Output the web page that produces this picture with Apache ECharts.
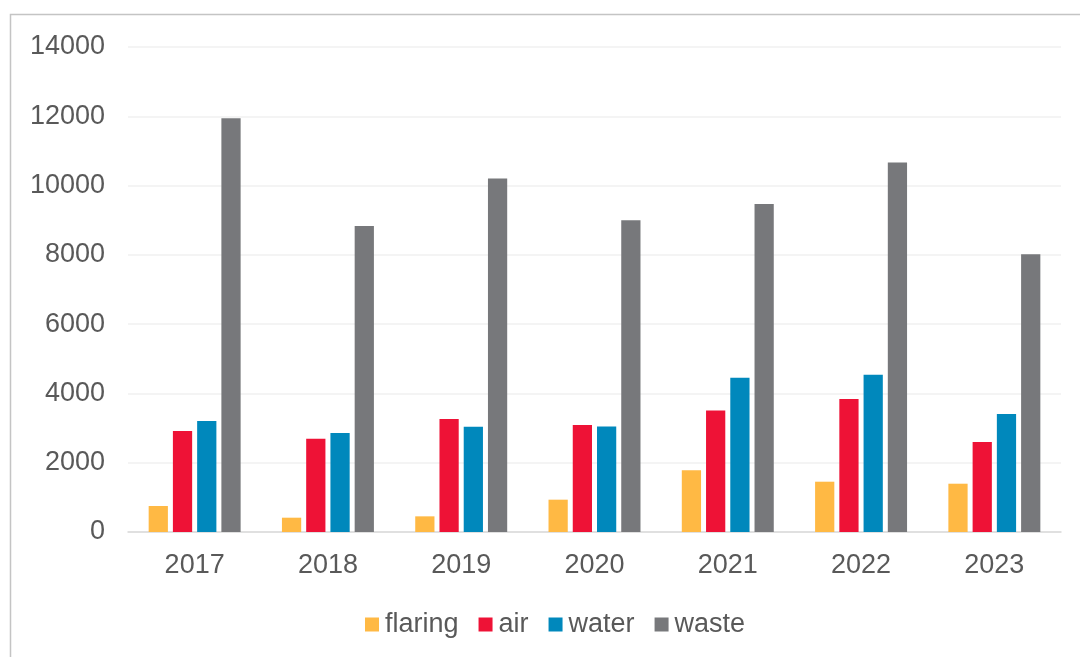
<!DOCTYPE html>
<html>
<head>
<meta charset="utf-8">
<style>
  html, body { margin: 0; padding: 0; background: #ffffff; }
  #chart { width: 1080px; height: 657px; }
</style>
<script src="https://cdn.jsdelivr.net/npm/echarts@6/dist/echarts.min.js"></script>
</head>
<body>
<div id="chart"></div>
<script>
// Releases by year and pathway
const years = ['2017', '2018', '2019', '2020', '2021', '2022', '2023'];
const flaring = [750, 413, 452, 933, 1779, 1452, 1394];
const air = [2913, 2692, 3260, 3087, 3510, 3837, 2596];
const water = [3202, 2856, 3038, 3048, 4452, 4538, 3404];
const waste = [11942, 8836, 10202, 9000, 9471, 10663, 8019];

const seriesNames = ['flaring', 'air', 'water', 'waste'];
const seriesColors = ['#FFB944', '#EE1236', '#0088BC', '#77787B'];
const seriesData = [flaring, air, water, waste];

const textColor = '#595959';
const fontFamily = 'Liberation Sans, Arial, sans-serif';
const fontSize = 27;

const chart = echarts.init(document.getElementById('chart'), null, { renderer: 'canvas' });

chart.setOption({
  backgroundColor: '#ffffff',
  animation: false,
  grid: { left: 128, right: 19, top: 47, bottom: 125, containLabel: false },
  legend: {
    bottom: 14,
    left: 360,
    itemWidth: 14,
    itemHeight: 14,
    itemGap: 20,
    icon: 'rect',
    textStyle: { color: textColor, fontSize: fontSize, fontFamily: fontFamily, padding: [0, 0, 0, 1] },
    data: seriesNames
  },
  xAxis: {
    type: 'category',
    data: years,
    axisLine: { show: true, lineStyle: { color: '#d9d9d9', width: 1.5 } },
    axisTick: { show: false },
    axisLabel: { color: textColor, fontSize: fontSize, fontFamily: fontFamily, margin: 20 }
  },
  yAxis: {
    type: 'value',
    min: 0,
    max: 14000,
    interval: 2000,
    axisLine: { show: false },
    axisTick: { show: false },
    splitLine: { show: true, lineStyle: { color: '#f0f0f0', width: 1.5 } },
    axisLabel: {
      color: textColor,
      fontSize: fontSize,
      fontFamily: fontFamily,
      margin: 23,
      formatter: (v) => String(v)
    }
  },
  series: seriesNames.map((name, i) => ({
    name: name,
    type: 'bar',
    data: seriesData[i],
    barGap: '26%',
    barCategoryGap: '31%',
    itemStyle: { color: seriesColors[i] }
  })),
  graphic: [
    {
      type: 'polyline',
      shape: { points: [[10.5, 657], [10.5, 14.5], [1080, 14.5]] },
      style: { stroke: '#c4c4c4', lineWidth: 1.5, fill: null },
      silent: true
    }
  ]
});
</script>
</body>
</html>
